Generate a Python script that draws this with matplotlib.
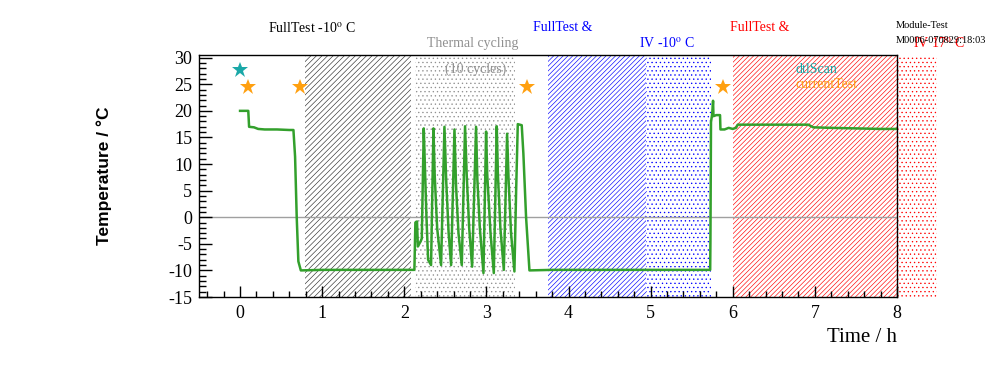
import matplotlib
matplotlib.use('Agg')
import matplotlib.pyplot as plt
from matplotlib.ticker import MultipleLocator

plt.rcParams['font.family'] = ['Liberation Serif', 'DejaVu Serif']
plt.rcParams['mathtext.fontset'] = 'stix'
plt.rcParams['axes.unicode_minus'] = False
plt.rcParams['hatch.linewidth'] = 0.45

# temperature log (hours, deg C)
time_h = [0.0, 0.10, 0.11, 0.17, 0.22, 0.30, 0.45, 0.60, 0.65, 0.67, 0.69, 0.71, 0.74,
          1.0, 1.3, 1.6, 1.9, 2.123,
          2.135, 2.155, 2.165, 2.20, 2.213, 2.237, 2.25, 2.27, 2.29,
          2.326, 2.355, 2.37, 2.40, 2.448, 2.489, 2.51, 2.54,
          2.57, 2.611, 2.63, 2.66, 2.70, 2.74, 2.76, 2.79,
          2.826, 2.874, 2.89, 2.92, 2.964, 2.996, 3.01, 3.05,
          3.09, 3.126, 3.14, 3.17, 3.212, 3.252, 3.27, 3.30,
          3.341, 3.362, 3.382, 3.43, 3.45, 3.483, 3.524,
          3.8, 4.3, 4.8, 5.3, 5.725, 5.728, 5.735, 5.75, 5.76, 5.765, 5.80, 5.845,
          5.85, 5.9, 5.95, 6.0, 6.04, 6.06, 6.5, 6.92, 6.98, 7.2, 7.5, 7.8, 8.0]
temp_c = [20.0, 20.0, 17.0, 16.9, 16.6, 16.5, 16.5, 16.4, 16.4, 11.4, 0.0, -8.3, -10.0,
          -9.9, -9.9, -9.9, -9.9, -9.9,
          -1.0, -0.8, -5.5, -4.5, -4.0, 16.7, 10.0, 0.0, -8.0,
          -9.0, 16.7, 8.0, -2.0, -9.0, 17.0, 7.0, -3.0,
          -9.0, 16.5, 6.0, -3.0, -9.0, 17.1, 8.0, -2.0,
          -9.3, 17.0, 7.0, -2.0, -10.5, 16.1, 8.0, -3.0,
          -10.5, 17.1, 8.0, -2.0, -9.9, 15.7, 7.0, -3.0,
          -10.2, 5.0, 17.5, 17.3, 12.0, 0.0, -10.0,
          -9.9, -9.9, -9.9, -9.9, -9.9, -4.6, 17.9, 19.5, 21.9, 19.0, 19.2, 19.2,
          16.5, 16.5, 16.8, 16.6, 16.8, 17.4, 17.4, 17.4, 16.9, 16.8, 16.7, 16.6, 16.6]

# test phases: start, end (hours), colour, hatch
phase_start = [0.79, 2.13, 3.75, 4.945, 6.0, 8.0]
phase_end = [2.08, 3.35, 4.945, 5.74, 8.0, 8.49]
phase_color = ['#303030', '#909090', 'blue', 'blue', 'red', 'red']
phase_hatch = ['//////', '....', '///////', '....', '///////', '....']

# star markers
star_t = [0.0, 0.10, 0.73, 3.49, 5.875]
star_v = [27.6, 24.4, 24.4, 24.4, 24.4]
star_c = ['#1aa8a8', '#ffa010', '#ffa010', '#ffa010', '#ffa010']

fig = plt.figure(figsize=(9.96, 3.72), dpi=100)
ax = fig.add_axes([199/996, 75/372, 698/996, 242/372])

for s, e, c, h in zip(phase_start, phase_end, phase_color, phase_hatch):
    ax.axvspan(s, e, facecolor='none', edgecolor=c, hatch=h, lw=0, clip_on=False, zorder=0.5)

ax.axhline(0, color='#a0a0a0', lw=1, zorder=1)
ax.plot(time_h, temp_c, color='#33a02c', lw=1.8, zorder=2)
for t, v, c in zip(star_t, star_v, star_c):
    ax.plot(t, v, marker='*', color=c, ms=12, mew=0, zorder=3, clip_on=False)

ax.set_xlim(-0.5, 8.0)
ax.set_ylim(-15, 30.5)
ax.xaxis.set_major_locator(MultipleLocator(1))
ax.xaxis.set_minor_locator(MultipleLocator(0.2))
ax.yaxis.set_major_locator(MultipleLocator(5))
ax.yaxis.set_minor_locator(MultipleLocator(1))
ax.tick_params(which='both', direction='in', top=False, right=False, labelsize=13, width=1)
ax.tick_params(axis='y', which='major', length=9, pad=5)
ax.tick_params(axis='y', which='minor', length=5)
ax.tick_params(axis='x', which='major', length=8, pad=6)
ax.tick_params(axis='x', which='minor', length=4)
for sp in ax.spines.values():
    sp.set_linewidth(1)
    sp.set_zorder(4)

ax.set_xlabel('Time / h', fontsize=15, loc='right', labelpad=4)
ax.set_ylabel('Temperature / °C', fontsize=12.5, fontweight='bold',
              family=['Liberation Sans', 'DejaVu Sans'], labelpad=40)

# annotations
ax.text(0.34, 35.6, 'FullTest -10$^{\\rm o}$ C', fontsize=10, va='center', clip_on=False)
ax.text(2.28, 32.75, 'Thermal cycling', fontsize=10, color='#909090', va='center', clip_on=False)
ax.text(2.50, 27.8, '(10 cycles)', fontsize=10, color='#909090', va='center')
ax.text(3.57, 35.6, 'FullTest &', fontsize=10, color='blue', va='center', clip_on=False)
ax.text(4.86, 32.75, 'IV -10$^{\\rm o}$ C', fontsize=10, color='blue', va='center', clip_on=False)
ax.text(5.97, 35.6, 'FullTest &', fontsize=10, color='red', va='center', clip_on=False)
ax.text(8.20, 32.75, 'IV 17$^{\\rm o}$ C', fontsize=10, color='red', va='center', clip_on=False)
ax.text(6.77, 27.8, 'dtlScan', fontsize=10, color='#1aa8a8', va='center')
ax.text(6.77, 25.0, 'currentTest', fontsize=10, color='#ffa010', va='center')
ax.text(7.99, 36.1, 'Module-Test', fontsize=7.5, va='center', clip_on=False)
ax.text(7.99, 33.3, 'M0006-070829:18:03', fontsize=7.5, va='center', clip_on=False)

fig.savefig('out.png', dpi=100)
